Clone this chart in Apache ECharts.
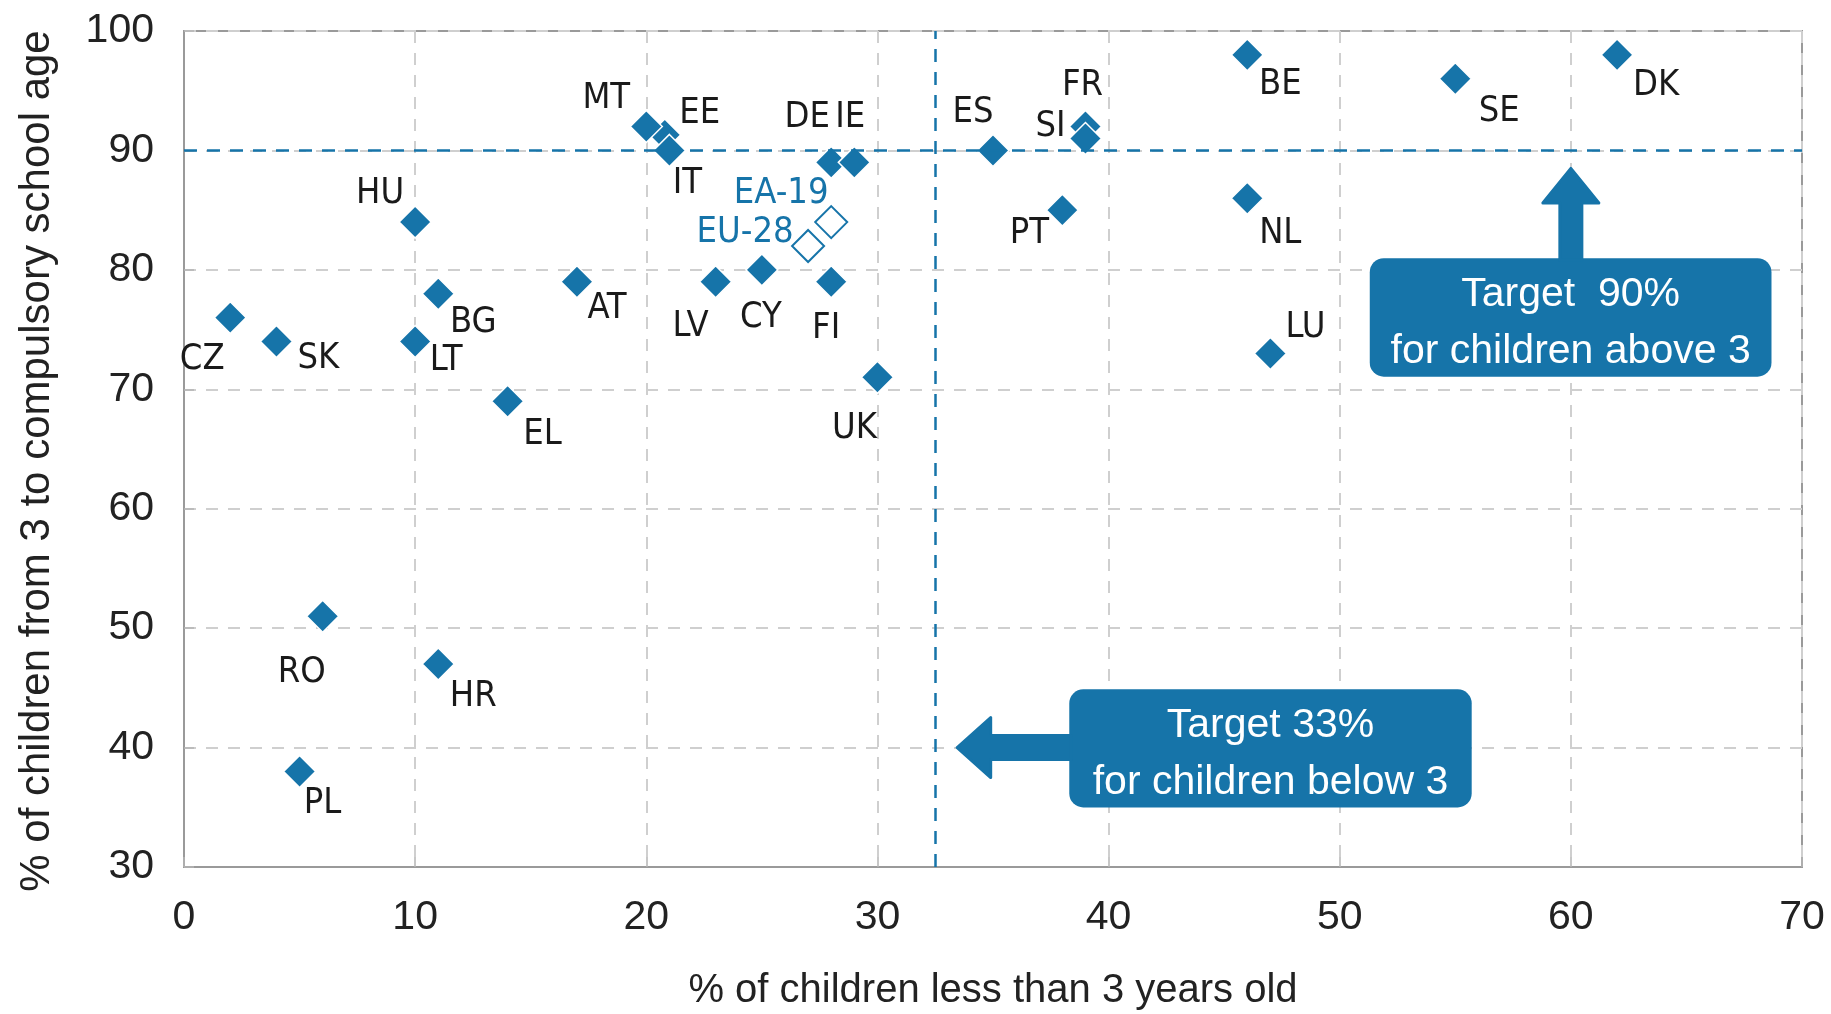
<!DOCTYPE html>
<html>
<head>
<meta charset="utf-8">
<title>Participation in childcare</title>
<script src="https://cdn.jsdelivr.net/npm/echarts@6.0.0/dist/echarts.min.js"></script>
<style>
  html, body { margin: 0; padding: 0; background: #fff; }
  #chart { width: 1831px; height: 1014px; }
</style>
</head>
<body>
<div id="chart"></div>
<script>
// drawing order matters: EE, FR and DE sit behind their neighbours
const countries = ["CZ", "SK", "HU", "BG", "LT", "EL", "AT", "RO", "HR", "PL", "EE", "MT", "IT", "DE", "IE",
  "LV", "CY", "FI", "UK", "ES", "FR", "SI", "PT", "BE", "NL", "LU", "SE", "DK"];
const under3 = [2, 4, 10, 11, 10, 14, 17, 6, 11, 5, 20.8, 20, 21, 28, 29,
  23, 25, 28, 30, 35, 39, 39, 38, 46, 46, 47, 55, 62];
const over3 = [76, 74, 84, 78, 74, 69, 79, 51, 47, 38, 91.3, 92, 90, 89, 89,
  79, 80, 79, 71, 90, 92, 91, 85, 98, 86, 73, 96, 98];

const aggregates = ["EU-28", "EA-19"];
const aggUnder3 = [27, 28];
const aggOver3 = [82, 84];

const targetUnder3 = 32.5;
const targetOver3 = 90;

const xMin = 0, xMax = 70, xStep = 10;
const yMin = 30, yMax = 100, yStep = 10;

// label placement around each marker, in px
const labelOffset = {
  CZ: [-28, 42], SK: [42, 17], HU: [-35, -28], BG: [35, 29], LT: [31, 19], EL: [35, 33],
  AT: [30, 27], RO: [-21, 56], HR: [35, 33], PL: [23, 32], EE: [35, -21], MT: [-40, -28],
  IT: [18, 33], DE: [-24, -45], IE: [-4, -45], LV: [-25, 45], CY: [-1, 48], FI: [-5, 47],
  UK: [-23, 51], ES: [-20, -38], FR: [-3, -41], SI: [-35, -12], PT: [-33, 23], BE: [33, 30],
  NL: [33, 35], LU: [35, -26], SE: [44, 33], DK: [39, 31],
  "EU-28": [-63, -13], "EA-19": [-50, -28]
};

const blue = "#1674a9";
const narrow = "'Liberation Sans Narrow', 'DejaVu Sans Condensed', sans-serif";
const regular = "'Liberation Sans', Arial, sans-serif";

const chart = echarts.init(document.getElementById("chart"));

function points(names, xs, ys) {
  return names.map((n, i) => ({
    name: n,
    value: [xs[i], ys[i]],
    label: { offset: labelOffset[n] || [0, 0] },
  }));
}

chart.setOption({
  animation: false,
  grid: {
    left: 184, right: 29, top: 31, bottom: 147, outerBoundsMode: "none",
    show: true, borderColor: "#9a9a9a", borderWidth: 2,
  },
  xAxis: {
    type: "value", min: xMin, max: xMax, interval: xStep,
    name: "% of children less than 3 years old",
    nameLocation: "middle", nameGap: 104,
    nameTextStyle: { color: "#222", fontSize: 40, fontFamily: regular },
    axisLine: { lineStyle: { color: "#9a9a9a", width: 2 } },
    axisTick: { show: true, inside: true, length: 10, lineStyle: { color: "#b5b5b5", width: 1.5 } },
    splitLine: { lineStyle: { color: "#cfcfcf", width: 2, type: [12, 10] } },
    axisLabel: { color: "#222", fontSize: 41, margin: 30, fontFamily: regular },
  },
  yAxis: {
    type: "value", min: yMin, max: yMax, interval: yStep,
    name: "% of children from 3 to compulsory school age",
    nameLocation: "middle", nameGap: 126,
    nameTextStyle: { color: "#222", fontSize: 42, fontFamily: regular, padding: [0, 24, 0, 0] },
    axisLine: { show: true, lineStyle: { color: "#9a9a9a", width: 2 } },
    axisTick: { show: true, inside: true, length: 10, lineStyle: { color: "#b5b5b5", width: 1.5 } },
    splitLine: { lineStyle: { color: "#cfcfcf", width: 2, type: [12, 10] } },
    axisLabel: { color: "#222", fontSize: 41, margin: 30, fontFamily: regular },
  },
  series: [
    {
      // target lines only
      type: "scatter", z: 1, data: [], silent: true,
      markLine: {
        silent: true, symbol: "none", label: { show: false },
        lineStyle: { color: blue, width: 2.5, type: [13, 10] },
        data: [{ xAxis: targetUnder3 }, { yAxis: targetOver3 }],
      },
    },
    {
      type: "scatter", z: 3,
      symbol: "diamond", symbolSize: 32,
      itemStyle: { color: blue, borderColor: "#fff", borderWidth: 1.5, opacity: 1 },
      label: { show: true, position: "inside", formatter: "{b}", color: "#1a1a1a", fontSize: 36, fontFamily: narrow },
      data: points(countries, under3, over3),
    },
    {
      type: "scatter", z: 3,
      symbol: "diamond", symbolSize: 32,
      itemStyle: { color: "#fff", borderColor: blue, borderWidth: 2, opacity: 1 },
      label: { show: true, position: "inside", formatter: "{b}", color: blue, fontSize: 36, fontFamily: narrow },
      data: points(aggregates, aggUnder3, aggOver3),
    },
  ],
});

// annotation boxes, in data units
const notes = [
  { text: "Target  90%\nfor children above 3", box: [51.3, 80.98, 68.68, 71.06] },
  { text: "Target 33%\nfor children below 3", box: [38.3, 44.88, 55.71, 34.99] },
];

function px(x, y) {
  return chart.convertToPixel({ gridIndex: 0 }, [x, y]);
}

function buildGraphics() {
  const els = [];
  notes.forEach((n) => {
    const [x1, y1] = px(n.box[0], n.box[1]);
    const [x2, y2] = px(n.box[2], n.box[3]);
    els.push({
      type: "rect", z: 10,
      shape: { x: x1, y: y1, width: x2 - x1, height: y2 - y1, r: 14 },
      style: { fill: blue },
    });
    els.push({
      type: "text", z: 11, x: (x1 + x2) / 2, y: (y1 + y2) / 2 + 6,
      style: { text: n.text, fill: "#fff", fontSize: 41, fontFamily: regular, align: "center", verticalAlign: "middle", lineHeight: 57 },
    });
  });

  // up arrow towards the 90% line
  const [cx, tipY] = px(60, 88.5);
  const baseY = px(60, 85.6)[1];
  const top1 = px(60, notes[0].box[1])[1] + 2;
  els.push({
    type: "polygon", z: 10,
    shape: { points: [[cx, tipY], [cx + 28, baseY], [cx + 11, baseY], [cx + 11, top1], [cx - 11, top1], [cx - 11, baseY], [cx - 28, baseY]] },
    style: { fill: blue, stroke: blue, lineWidth: 3, lineJoin: "round" },
  });

  // left arrow towards the 33% line
  const [tipX, cy] = px(33.45, 40);
  const baseX = px(34.9, 40)[0];
  const left2 = px(notes[1].box[0], 40)[0] + 2;
  els.push({
    type: "polygon", z: 10,
    shape: { points: [[tipX, cy], [baseX, cy - 30], [baseX, cy - 12], [left2, cy - 12], [left2, cy + 12], [baseX, cy + 12], [baseX, cy + 30]] },
    style: { fill: blue, stroke: blue, lineWidth: 3, lineJoin: "round" },
  });
  return els;
}

chart.setOption({ graphic: buildGraphics() });
</script>
</body>
</html>
